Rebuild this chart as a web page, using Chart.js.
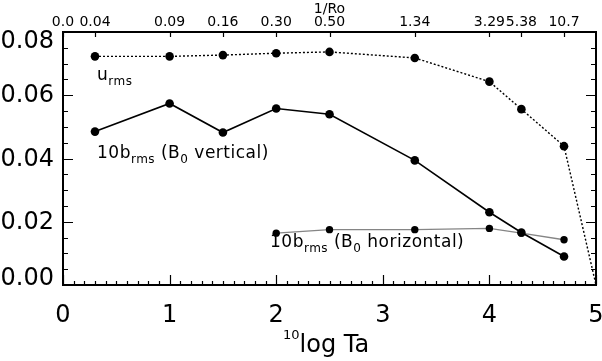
<!DOCTYPE html>
<html>
<head>
<meta charset="utf-8">
<script src="https://cdn.jsdelivr.net/npm/chart.js@4.4.1/dist/chart.umd.min.js"></script>
<style>
  html, body { margin: 0; padding: 0; background: #fff; }
  #wrap { width: 602px; height: 361px; }
</style>
</head>
<body>
<div id="wrap"><canvas id="chart" width="602" height="361"></canvas></div>
<script>
// log10(Ta) positions of the runs
const taLog = [0.3, 1.0, 1.5, 2.0, 2.5, 3.3, 4.0, 4.3, 4.7];
const uRmsX = [0.3, 1.0, 1.5, 2.0, 2.5, 3.3, 4.0, 4.3, 4.7, 5.0];
const uRms = [0.0723, 0.0723, 0.0727, 0.0733, 0.0737, 0.0718, 0.0643, 0.0556, 0.0439, 0.0];
const bVertical = [0.0485, 0.0574, 0.0482, 0.0558, 0.0540, 0.0394, 0.0230, 0.0166, 0.0090];
const bHorizX = [2.0, 2.5, 3.3, 4.0, 4.3, 4.7];
const bHorizontal = [0.0164, 0.0175, 0.0175, 0.0179, 0.0164, 0.0143];

// top axis: 1/Ro at each run
const topTickX = [0, 0.3, 1.0, 1.5, 2.0, 2.5, 3.3, 4.0, 4.3, 4.7];
const topTickLabels = ["0.0", "0.04", "0.09", "0.16", "0.30", "0.50", "1.34", "3.29", "5.38", "10.7"];

const yTicks = [0, 0.02, 0.04, 0.06, 0.08];
const yLabels = ["0.00", "0.02", "0.04", "0.06", "0.08"];

const FONT = "'DejaVu Sans', sans-serif";

function pts(xs, ys) {
  return xs.map((x, i) => ({ x: x, y: ys[i] }));
}

function drawRich(ctx, x, y, parts, size, subSize) {
  let cx = x;
  parts.forEach(([text, kind]) => {
    const fs = kind === "n" ? size : subSize;
    ctx.font = fs + "px " + FONT;
    let dy = 0;
    if (kind === "sub") dy = 5;
    if (kind === "sup") dy = -13;
    ctx.fillText(text, cx, y + dy);
    cx += ctx.measureText(text).width;
  });
}

const framePlugin = {
  id: "frame",
  afterDraw(chart) {
    const ctx = chart.ctx;
    const a = chart.chartArea;
    const xs = chart.scales.x;
    const ys = chart.scales.y;
    ctx.save();
    ctx.strokeStyle = "#000";
    ctx.fillStyle = "#000";

    // box
    ctx.lineWidth = 2;
    ctx.strokeRect(a.left, a.top, a.right - a.left, a.bottom - a.top);

    ctx.lineWidth = 1.2;
    ctx.beginPath();
    // bottom ticks: major every 1, minor every 0.1
    for (let i = 0; i <= 50; i++) {
      const px = Math.round(xs.getPixelForValue(i / 10)) + 0.5;
      const len = i % 10 === 0 ? 10 : 4;
      ctx.moveTo(px, a.bottom);
      ctx.lineTo(px, a.bottom - len);
    }
    // left/right ticks: major every 0.02, minor every 0.005
    for (let i = 0; i <= 16; i++) {
      const py = Math.round(ys.getPixelForValue(i * 0.005)) + 0.5;
      const len = i % 4 === 0 ? 10 : 5;
      ctx.moveTo(a.left, py);
      ctx.lineTo(a.left + len, py);
      ctx.moveTo(a.right, py);
      ctx.lineTo(a.right - len, py);
    }
    // top ticks at the runs
    topTickX.forEach((v) => {
      const px = Math.round(xs.getPixelForValue(v)) + 0.5;
      ctx.moveTo(px, a.top);
      ctx.lineTo(px, a.top + 5);
    });
    ctx.stroke();

    // y tick labels, kept inside the axis range
    ctx.font = "24px " + FONT;
    ctx.textAlign = "right";
    ctx.textBaseline = "middle";
    yTicks.forEach((v, i) => {
      let py = ys.getPixelForValue(v);
      py = Math.min(Math.max(py, a.top + 9), a.bottom - 7);
      ctx.fillText(yLabels[i], 54, py + 1);
    });

    // series labels
    ctx.textAlign = "left";
    ctx.textBaseline = "alphabetic";
    ctx.letterSpacing = "0.5px";
    drawRich(ctx, 97, 80, [["u", "n"], ["rms", "sub"]], 17, 12);
    drawRich(ctx, 97, 158, [["10b", "n"], ["rms", "sub"], [" (B", "n"], ["0", "sub"], [" vertical)", "n"]], 17, 12);
    drawRich(ctx, 270, 247, [["10b", "n"], ["rms", "sub"], [" (B", "n"], ["0", "sub"], [" horizontal)", "n"]], 17, 12);
    ctx.letterSpacing = "0px";

    // x axis title
    drawRich(ctx, 283, 352, [["10", "sup"], ["log Ta", "n"]], 24, 13);
    ctx.restore();
  }
};

new Chart(document.getElementById("chart"), {
  type: "line",
  data: {
    datasets: [
      {
        label: "u_rms",
        data: pts(uRmsX, uRms),
        borderColor: "#000",
        borderWidth: 1.4,
        borderDash: [2, 2],
        pointRadius: uRmsX.map((x, i) => (i === uRmsX.length - 1 ? 0 : 4.3)),
        pointBackgroundColor: "#000",
        pointBorderWidth: 0
      },
      {
        label: "10b_rms (B0 vertical)",
        data: pts(taLog, bVertical),
        borderColor: "#000",
        borderWidth: 1.6,
        pointRadius: 4.3,
        pointBackgroundColor: "#000",
        pointBorderWidth: 0
      },
      {
        label: "10b_rms (B0 horizontal)",
        data: pts(bHorizX, bHorizontal),
        borderColor: "#858585",
        borderWidth: 1.4,
        pointRadius: 3.7,
        pointBackgroundColor: "#000",
        pointBorderWidth: 0
      }
    ]
  },
  options: {
    responsive: false,
    animation: false,
    devicePixelRatio: 1,
    layout: { padding: { left: 0, right: 6, top: 0, bottom: 0 } },
    plugins: {
      legend: { display: false },
      tooltip: { enabled: false }
    },
    elements: { line: { tension: 0 } },
    scales: {
      x: {
        type: "linear",
        position: "bottom",
        min: 0,
        max: 5,
        grid: { display: false },
        border: { display: false },
        ticks: {
          stepSize: 1,
          color: "#000",
          font: { family: FONT, size: 24 },
          padding: 8,
          maxRotation: 0
        },
        afterFit(s) {
          s.height = 76;
          s.paddingLeft = 0;
          s.paddingRight = 0;
        }
      },
      x2: {
        type: "linear",
        position: "top",
        min: 0,
        max: 5,
        grid: { display: false },
        border: { display: false },
        afterBuildTicks(s) {
          s.ticks = topTickX.map((v) => ({ value: v }));
        },
        ticks: {
          autoSkip: false,
          maxRotation: 0,
          color: "#000",
          font: { family: FONT, size: 14 },
          padding: -7,
          callback: (v, i) => topTickLabels[i]
        },
        title: {
          display: true,
          text: "1/Ro",
          color: "#000",
          font: { family: FONT, size: 14 },
          padding: { top: 1, bottom: 0 }
        },
        afterFit(s) {
          s.height = 32;
          s.paddingLeft = 0;
          s.paddingRight = 0;
        }
      },
      y: {
        type: "linear",
        min: 0,
        max: 0.08,
        grid: { display: false },
        border: { display: false },
        ticks: { display: false },
        afterFit(s) {
          s.width = 63;
        }
      }
    }
  },
  plugins: [framePlugin]
});
</script>
</body>
</html>
